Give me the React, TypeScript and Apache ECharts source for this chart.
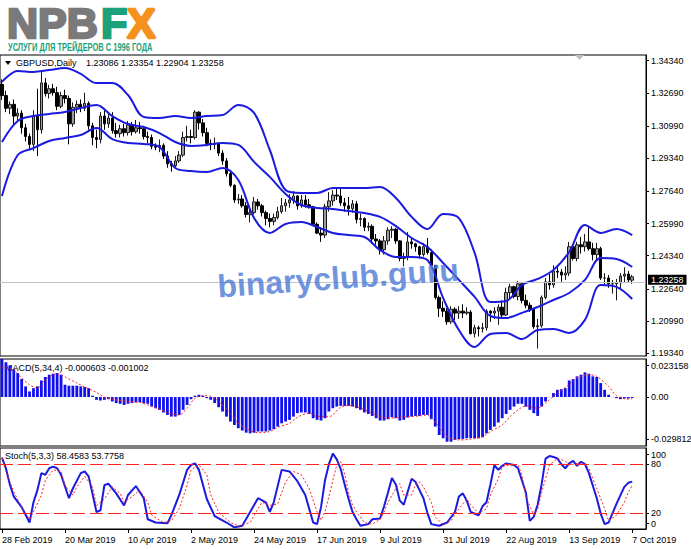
import React, { useEffect, useRef } from 'react';
import * as echarts from 'echarts';

const FF = '"Liberation Sans", Arial, sans-serif';

// ---- x axis tick labels (every 16 bars, MT4 style) ----
const dateTicks = ['28 Feb 2019', '20 Mar 2019', '10 Apr 2019', '2 May 2019', '24 May 2019', '17 Jun 2019', '9 Jul 2019', '31 Jul 2019', '22 Aug 2019', '13 Sep 2019', '7 Oct 2019'];
const dateTickBars = [0, 16, 32, 48, 64, 80, 96, 112, 128, 144, 160];
const SLOTS = 164; // 161 bars + empty space on the right

// ---- GBPUSD daily OHLC ----
const opens = [
  1.3312, 1.3255, 1.3190, 1.3210, 1.3150, 1.3165, 1.3090, 1.3045, 1.3005, 1.3150,
  1.3080, 1.3320, 1.3265, 1.3290, 1.3270, 1.3200, 1.3255, 1.3240, 1.3110, 1.3195,
  1.3210, 1.3190, 1.3215, 1.3100, 1.3040, 1.3030, 1.3150, 1.3110, 1.3140, 1.3075,
  1.3060, 1.3085, 1.3065, 1.3105, 1.3070, 1.3090, 1.3085, 1.3045, 1.3040, 1.2995,
  1.2990, 1.3000, 1.2945, 1.2905, 1.2895, 1.2920, 1.2950, 1.3040, 1.3045, 1.3040,
  1.3170, 1.3115, 1.3065, 1.3010, 1.3005, 1.3010, 1.2960, 1.2920, 1.2855, 1.2795,
  1.2720, 1.2725, 1.2690, 1.2645, 1.2655, 1.2710, 1.2690, 1.2655, 1.2625, 1.2610,
  1.2630, 1.2660, 1.2690, 1.2705, 1.2720, 1.2740, 1.2690, 1.2720, 1.2695, 1.2685,
  1.2595, 1.2550, 1.2540, 1.2685, 1.2715, 1.2745, 1.2740, 1.2705, 1.2690, 1.2675,
  1.2700, 1.2620, 1.2625, 1.2580, 1.2585, 1.2520, 1.2510, 1.2465, 1.2510, 1.2565,
  1.2570, 1.2510, 1.2420, 1.2430, 1.2505, 1.2495, 1.2480, 1.2440, 1.2480, 1.2450,
  1.2385, 1.2220, 1.2165, 1.2150, 1.2095, 1.2160, 1.2140, 1.2150, 1.2140, 1.2145,
  1.2035, 1.2065, 1.2060, 1.2065, 1.2150, 1.2140, 1.2150, 1.2170, 1.2130, 1.2245,
  1.2275, 1.2225, 1.2290, 1.2205, 1.2180, 1.2160, 1.2070, 1.2075, 1.2220, 1.2300,
  1.2285, 1.2355, 1.2350, 1.2335, 1.2345, 1.2480, 1.2420, 1.2490, 1.2480, 1.2505,
  1.2470, 1.2440, 1.2470, 1.2320, 1.2320, 1.2290, 1.2290, 1.2295, 1.2330, 1.2340,
  1.23086,
];
const highs = [
  1.3338, 1.3280, 1.3225, 1.3235, 1.3190, 1.3180, 1.3110, 1.3060, 1.3180, 1.3290,
  1.3380, 1.3345, 1.3310, 1.3315, 1.3300, 1.3275, 1.3285, 1.3255, 1.3220, 1.3230,
  1.3235, 1.3270, 1.3225, 1.3115, 1.3080, 1.3170, 1.3180, 1.3160, 1.3170, 1.3115,
  1.3105, 1.3110, 1.3125, 1.3120, 1.3130, 1.3120, 1.3100, 1.3070, 1.3055, 1.3010,
  1.3030, 1.3010, 1.2970, 1.2920, 1.2945, 1.2970, 1.3070, 1.3100, 1.3080, 1.3180,
  1.3175, 1.3135, 1.3090, 1.3030, 1.3040, 1.3015, 1.2975, 1.2935, 1.2870, 1.2800,
  1.2750, 1.2745, 1.2710, 1.2690, 1.2735, 1.2725, 1.2700, 1.2665, 1.2650, 1.2650,
  1.2685, 1.2730, 1.2725, 1.2750, 1.2765, 1.2745, 1.2745, 1.2745, 1.2725, 1.2690,
  1.2605, 1.2580, 1.2700, 1.2760, 1.2770, 1.2785, 1.2780, 1.2730, 1.2735, 1.2720,
  1.2715, 1.2650, 1.2630, 1.2605, 1.2595, 1.2545, 1.2520, 1.2535, 1.2580, 1.2585,
  1.2575, 1.2515, 1.2450, 1.2555, 1.2525, 1.2500, 1.2485, 1.2500, 1.2525, 1.2465,
  1.2385, 1.2230, 1.2200, 1.2165, 1.2175, 1.2170, 1.2175, 1.2185, 1.2170, 1.2155,
  1.2080, 1.2075, 1.2090, 1.2160, 1.2155, 1.2170, 1.2185, 1.2205, 1.2270, 1.2290,
  1.2280, 1.2305, 1.2300, 1.2235, 1.2195, 1.2165, 1.2110, 1.2230, 1.2320, 1.2340,
  1.2385, 1.2385, 1.2365, 1.2380, 1.2505, 1.2490, 1.2505, 1.2530, 1.2545, 1.2582,
  1.2500, 1.2500, 1.2480, 1.2345, 1.2335, 1.2310, 1.2315, 1.2345, 1.2375, 1.2355,
  1.23354,
];
const lows = [
  1.3232, 1.3170, 1.3160, 1.3110, 1.3120, 1.3060, 1.3020, 1.2975, 1.2970, 1.2945,
  1.3060, 1.3250, 1.3240, 1.3255, 1.3180, 1.3190, 1.3215, 1.3005, 1.3095, 1.3165,
  1.3170, 1.3175, 1.3080, 1.3000, 1.2985, 1.3010, 1.3080, 1.3090, 1.3060, 1.3040,
  1.3040, 1.3045, 1.3050, 1.3050, 1.3060, 1.3060, 1.3030, 1.3010, 1.2980, 1.2975,
  1.2965, 1.2930, 1.2885, 1.2865, 1.2880, 1.2910, 1.2940, 1.3020, 1.3010, 1.3030,
  1.3080, 1.3045, 1.2995, 1.2975, 1.2980, 1.2945, 1.2900, 1.2840, 1.2785, 1.2705,
  1.2700, 1.2680, 1.2630, 1.2605, 1.2645, 1.2670, 1.2635, 1.2590, 1.2580, 1.2590,
  1.2620, 1.2650, 1.2660, 1.2680, 1.2700, 1.2670, 1.2680, 1.2680, 1.2675, 1.2590,
  1.2545, 1.2505, 1.2525, 1.2660, 1.2690, 1.2720, 1.2690, 1.2660, 1.2640, 1.2655,
  1.2600, 1.2585, 1.2560, 1.2560, 1.2495, 1.2490, 1.2440, 1.2440, 1.2490, 1.2525,
  1.2495, 1.2405, 1.2380, 1.2410, 1.2470, 1.2455, 1.2420, 1.2430, 1.2440, 1.2375,
  1.2210, 1.2120, 1.2120, 1.2080, 1.2085, 1.2105, 1.2110, 1.2115, 1.2130, 1.2030,
  1.2015, 1.2020, 1.2040, 1.2050, 1.2095, 1.2110, 1.2080, 1.2120, 1.2125, 1.2210,
  1.2215, 1.2205, 1.2190, 1.2165, 1.2145, 1.2060, 1.1958, 1.2065, 1.2210, 1.2260,
  1.2270, 1.2320, 1.2300, 1.2310, 1.2330, 1.2410, 1.2405, 1.2445, 1.2455, 1.2460,
  1.2410, 1.2415, 1.2310, 1.2285, 1.2270, 1.2240, 1.2205, 1.2260, 1.2295, 1.2295,
  1.22904,
];
const closes = [
  1.3255, 1.3190, 1.3210, 1.3150, 1.3165, 1.3090, 1.3045, 1.3005, 1.3150, 1.3080,
  1.3320, 1.3265, 1.3290, 1.3270, 1.3200, 1.3255, 1.3240, 1.3110, 1.3195, 1.3210,
  1.3190, 1.3215, 1.3100, 1.3040, 1.3030, 1.3150, 1.3110, 1.3140, 1.3075, 1.3060,
  1.3085, 1.3065, 1.3105, 1.3070, 1.3090, 1.3085, 1.3045, 1.3040, 1.2995, 1.2990,
  1.3000, 1.2945, 1.2905, 1.2895, 1.2920, 1.2950, 1.3040, 1.3045, 1.3040, 1.3170,
  1.3115, 1.3065, 1.3010, 1.3005, 1.3010, 1.2960, 1.2920, 1.2855, 1.2795, 1.2720,
  1.2725, 1.2690, 1.2645, 1.2655, 1.2710, 1.2690, 1.2655, 1.2625, 1.2610, 1.2630,
  1.2660, 1.2690, 1.2705, 1.2720, 1.2740, 1.2690, 1.2720, 1.2695, 1.2685, 1.2595,
  1.2550, 1.2540, 1.2685, 1.2715, 1.2745, 1.2740, 1.2705, 1.2690, 1.2675, 1.2700,
  1.2620, 1.2625, 1.2580, 1.2585, 1.2520, 1.2510, 1.2465, 1.2510, 1.2565, 1.2570,
  1.2510, 1.2420, 1.2430, 1.2505, 1.2495, 1.2480, 1.2440, 1.2480, 1.2450, 1.2385,
  1.2220, 1.2165, 1.2150, 1.2095, 1.2160, 1.2140, 1.2150, 1.2140, 1.2145, 1.2035,
  1.2065, 1.2060, 1.2065, 1.2150, 1.2140, 1.2150, 1.2170, 1.2130, 1.2245, 1.2275,
  1.2225, 1.2290, 1.2205, 1.2180, 1.2160, 1.2070, 1.2075, 1.2220, 1.2300, 1.2285,
  1.2355, 1.2350, 1.2335, 1.2345, 1.2480, 1.2420, 1.2490, 1.2480, 1.2505, 1.2470,
  1.2440, 1.2470, 1.2320, 1.2320, 1.2290, 1.2290, 1.2295, 1.2330, 1.2340, 1.2310,
  1.23258,
];

// ---- Bollinger bands, read every 4 bars ----
const bbIdx = [0, 4, 8, 12, 16, 20, 24, 28, 32, 36, 40, 44, 48, 52, 56, 60, 64, 68, 72, 76, 80, 84, 88, 92, 96, 100, 104, 108, 112, 116, 120, 124, 128, 132, 136, 140, 144, 148, 152, 156, 160];
const bbUpper = [1.3325, 1.3381, 1.3376, 1.3386, 1.3396, 1.3366, 1.3319, 1.3319, 1.3258, 1.3145, 1.3140, 1.3150, 1.3140, 1.3150, 1.3155, 1.3207, 1.3166, 1.2976, 1.2771, 1.2756, 1.2756, 1.2781, 1.2781, 1.2781, 1.2786, 1.2730, 1.2633, 1.2571, 1.2648, 1.2627, 1.2448, 1.2197, 1.2202, 1.2284, 1.2315, 1.2361, 1.2453, 1.2592, 1.2551, 1.2571, 1.2540];
const bbMiddle = [1.3017, 1.3125, 1.3150, 1.3161, 1.3171, 1.3191, 1.3207, 1.3150, 1.3109, 1.3094, 1.3063, 1.3017, 1.2997, 1.3002, 1.3012, 1.3002, 1.2915, 1.2838, 1.2751, 1.2694, 1.2679, 1.2674, 1.2663, 1.2653, 1.2633, 1.2586, 1.2525, 1.2479, 1.2397, 1.2310, 1.2223, 1.2125, 1.2115, 1.2141, 1.2171, 1.2207, 1.2243, 1.2310, 1.2422, 1.2417, 1.2376];
const bbLower = [1.2740, 1.2950, 1.2986, 1.3022, 1.3038, 1.3053, 1.3089, 1.3032, 1.3012, 1.3007, 1.2991, 1.2884, 1.2868, 1.2863, 1.2884, 1.2822, 1.2627, 1.2551, 1.2597, 1.2607, 1.2581, 1.2551, 1.2540, 1.2530, 1.2463, 1.2428, 1.2428, 1.2412, 1.2217, 1.2053, 1.1966, 1.2033, 1.2038, 1.2007, 1.2053, 1.2059, 1.2038, 1.2105, 1.2284, 1.2274, 1.2212];

// ---- MACD(5,34,4) ----
const macdHist = [
  0.0231, 0.0212, 0.0193, 0.0170, 0.0146, 0.0110, 0.0065, 0.0034, 0.0054, 0.0065,
  0.0101, 0.0122, 0.0136, 0.0142, 0.0146, 0.0136, 0.0075, 0.0069, 0.0069, 0.0069,
  0.0065, 0.0061, 0.0054, 0.0008, -0.0017, -0.0021, -0.0017, -0.0013, -0.0027, -0.0037,
  -0.0041, -0.0048, -0.0041, -0.0037, -0.0033, -0.0031, -0.0037, -0.0041, -0.0058, -0.0068,
  -0.0078, -0.0094, -0.0109, -0.0119, -0.0119, -0.0109, -0.0078, -0.0048, -0.0013, 0.0008,
  0.0014, 0.0008, -0.0007, -0.0017, -0.0037, -0.0062, -0.0088, -0.0119, -0.0149, -0.0170,
  -0.0190, -0.0204, -0.0217, -0.0221, -0.0217, -0.0210, -0.0210, -0.0210, -0.0204, -0.0196,
  -0.0180, -0.0160, -0.0149, -0.0139, -0.0119, -0.0098, -0.0094, -0.0094, -0.0103, -0.0129,
  -0.0139, -0.0143, -0.0129, -0.0088, -0.0068, -0.0058, -0.0054, -0.0054, -0.0054, -0.0058,
  -0.0068, -0.0078, -0.0094, -0.0103, -0.0115, -0.0129, -0.0143, -0.0143, -0.0135, -0.0123,
  -0.0129, -0.0143, -0.0139, -0.0125, -0.0119, -0.0115, -0.0115, -0.0109, -0.0109, -0.0135,
  -0.0180, -0.0231, -0.0251, -0.0272, -0.0272, -0.0261, -0.0257, -0.0255, -0.0251, -0.0251,
  -0.0251, -0.0251, -0.0245, -0.0221, -0.0200, -0.0180, -0.0155, -0.0129, -0.0103, -0.0078,
  -0.0058, -0.0041, -0.0041, -0.0058, -0.0078, -0.0098, -0.0115, -0.0058, -0.0027, -0.0001,
  0.0024, 0.0044, 0.0048, 0.0054, 0.0101, 0.0109, 0.0126, 0.0136, 0.0150, 0.0142,
  0.0126, 0.0122, 0.0085, 0.0044, 0.0014, -0.0001, -0.0007, -0.0013, -0.0009, -0.0009,
  -0.000603,
];
const macdSigIdx = [0, 3, 5, 7, 9, 11, 14, 16, 19, 21, 24, 26, 28, 32, 35, 37, 40, 42, 45, 47, 49, 51, 53, 55, 58, 60, 63, 65, 68, 70, 73, 75, 78, 80, 83, 86, 88, 90, 93, 96, 98, 101, 103, 106, 108, 109, 111, 113, 116, 119, 122, 124, 127, 129, 131, 133, 136, 138, 141, 144, 146, 149, 151, 154, 156, 159, 160];
const macdSignal = [0.0180, 0.0166, 0.0116, 0.0075, 0.0054, 0.0105, 0.0142, 0.0122, 0.0085, 0.0061, 0.0028, -0.0001, -0.0013, -0.0027, -0.0033, -0.0048, -0.0074, -0.0098, -0.0109, -0.0068, -0.0007, 0.0008, 0.0004, -0.0027, -0.0098, -0.0160, -0.0204, -0.0217, -0.0210, -0.0184, -0.0160, -0.0123, -0.0098, -0.0119, -0.0120, -0.0062, -0.0052, -0.0058, -0.0088, -0.0119, -0.0129, -0.0123, -0.0119, -0.0115, -0.0109, -0.0129, -0.0180, -0.0241, -0.0261, -0.0257, -0.0241, -0.0210, -0.0170, -0.0119, -0.0078, -0.0054, -0.0068, -0.0037, 0.0024, 0.0075, 0.0116, 0.0136, 0.0126, 0.0065, 0.0008, -0.0013, -0.001002];

// ---- Stochastic(5,3,3) ----
const stochIdx = [0, 1, 2, 3, 5, 7, 8, 9, 10, 11, 12, 13, 14, 15, 17, 18, 20, 21, 22, 24, 25, 26, 27, 29, 31, 32, 34, 36, 37, 39, 42, 43, 45, 47, 48, 49, 50, 52, 54, 57, 59, 61, 63, 65, 67, 68, 69, 71, 73, 75, 77, 79, 80, 81, 82, 83, 84, 85, 86, 87, 88, 89, 90, 91, 93, 94, 96, 97, 98, 99, 100, 101, 102, 103, 104, 105, 106, 107, 108, 109, 111, 113, 115, 116, 117, 118, 119, 121, 122, 123, 124, 125, 126, 127, 128, 130, 131, 133, 134, 135, 136, 137, 138, 139, 140, 141, 142, 143, 144, 145, 146, 147, 148, 149, 151, 152, 153, 154, 156, 158, 159, 160];
const stochMain = [88, 75, 55, 40, 27, 8, 33, 48, 69, 67, 75, 77, 75, 67, 38, 50, 69, 71, 65, 21, 23, 54, 56, 44, 29, 42, 53, 38, 12, 8, 7, 17, 42, 73, 79, 81, 73, 37, 16, 8, 2, 4, 21, 38, 33, 21, 33, 73, 71, 59, 42, 8, 6, 27, 60, 80, 93, 86, 74, 55, 37, 21, 12, 4, 6, 12, 13, 28, 45, 63, 55, 35, 30, 46, 62, 58, 48, 38, 20, 6, 4, 8, 21, 40, 44, 35, 21, 17, 28, 33, 55, 79, 73, 78, 81, 79, 75, 45, 10, 15, 30, 55, 87, 90, 89, 87, 80, 75, 81, 84, 78, 83, 80, 69, 38, 19, 6, 8, 31, 52, 57, 58.4583];
const stochSigIdx = [0, 1, 3, 5, 7, 8, 10, 11, 13, 15, 16, 18, 19, 21, 23, 24, 26, 28, 30, 31, 33, 35, 37, 38, 41, 43, 45, 47, 48, 50, 52, 53, 55, 58, 60, 63, 65, 66, 68, 70, 72, 74, 76, 78, 80, 81, 82, 83, 84, 85, 86, 87, 88, 89, 90, 92, 94, 96, 97, 98, 100, 101, 102, 104, 105, 106, 107, 109, 110, 112, 114, 116, 118, 119, 121, 123, 124, 126, 127, 129, 131, 132, 133, 135, 136, 137, 139, 141, 143, 144, 146, 148, 149, 151, 153, 154, 156, 158, 159, 160];
const stochSignal = [88, 71, 46, 27, 12, 21, 42, 60, 73, 71, 54, 42, 52, 65, 52, 29, 37, 52, 44, 33, 40, 48, 33, 17, 8, 10, 25, 54, 73, 79, 67, 42, 21, 8, 4, 8, 25, 33, 29, 31, 58, 71, 67, 50, 21, 11, 21, 40, 60, 79, 83, 68, 45, 30, 21, 8, 6, 12, 21, 33, 50, 56, 42, 42, 55, 58, 52, 33, 15, 5, 10, 25, 37, 30, 19, 25, 42, 62, 77, 79, 79, 67, 40, 17, 25, 45, 79, 87, 84, 79, 81, 80, 75, 50, 25, 10, 17, 33, 45, 53.7758];
const stochLevels = [80, 20];

// ---- right axis labels ----
const priceTicks = [1.19340, 1.20990, 1.22640, 1.24340, 1.25990, 1.27640, 1.29340, 1.30990, 1.32690, 1.34340];
const priceMin = 1.1920;
const priceMax = 1.3463;
const macdTicks = [0.023158, 0, -0.029812];
const macdTickTexts = ['0.023158', '0.00', '-0.029812'];
const stochTicks = [100, 80, 20, 0];

export default function App() {
  const ref = useRef<HTMLDivElement>(null);

  useEffect(() => {
    if (!ref.current) return;
    const chart = echarts.init(ref.current, null, { renderer: 'svg' });

    const cats = Array.from({ length: SLOTS }, (_, i) => 'b' + i);
    const candles = opens.map((o, i) => [o, closes[i], lows[i], highs[i]]);
    const pair = (idx: number[], vals: number[]) => idx.map((x, k) => [x, vals[k]]);
    const tickSet = new Set(dateTickBars);
    const tickText = (i: number) => {
      const k = dateTickBars.indexOf(i);
      return k >= 0 ? dateTicks[k] : '';
    };
    const nearest = (pos: number[], texts: string[]) => (v: number) => {
      let b = 0;
      pos.forEach((p, i) => {
        if (Math.abs(p - v) < Math.abs(pos[b] - v)) b = i;
      });
      return texts[b];
    };

    // edge labels are kept inside the pane (MT4 style)
    const macdMax = macdTicks[0];
    const macdMin = macdTicks[2];
    const macdK = (macdMax - macdMin) / 87;
    const macdPos = [macdMax - 6.5 * macdK, macdTicks[1], macdMin + 7 * macdK];
    const stochK = 100 / 81;
    const stochPos = [100 - 6.5 * stochK, 80, 20, 5.5 * stochK];
    const stochTexts = stochTicks.map((v) => String(v));

    const lastIdx = closes.length - 1;
    const lastClose = closes[lastIdx];
    const ohlcText = [opens[lastIdx], highs[lastIdx], lows[lastIdx], closes[lastIdx]].map((v) => v.toFixed(5)).join(' ');
    const macdText = `MACD(5,34,4) ${macdHist[lastIdx].toFixed(6)} ${macdSignal[macdSignal.length - 1].toFixed(6)}`;
    const stochText = `Stoch(5,3,3) ${stochMain[stochMain.length - 1].toFixed(4)} ${stochSignal[stochSignal.length - 1].toFixed(4)}`;

    const blue = '#1a1ae0';
    const red = '#ff2020';
    const labelStyle = { color: '#000', fontSize: 9, fontFamily: FF };

    const gridBase = { left: 0, width: 646, show: true, borderColor: '#000', borderWidth: 1, backgroundColor: '#fff', containLabel: false, outerBoundsMode: 'none' };

    const yBase = {
      type: 'value',
      position: 'right',
      scale: true,
      axisLine: { show: true, lineStyle: { color: '#000', width: 1 } },
      splitLine: { show: false },
    };

    const option: any = {
      animation: false,
      backgroundColor: '#fff',
      textStyle: { fontFamily: FF },
      grid: [
        { ...gridBase, top: 55, height: 301 },
        { ...gridBase, top: 359, height: 87 },
        { ...gridBase, top: 448, height: 81 },
      ],
      xAxis: [
        { gridIndex: 0, type: 'category', data: cats, boundaryGap: true, show: false },
        { gridIndex: 1, type: 'category', data: cats, boundaryGap: true, show: false },
        {
          gridIndex: 2,
          type: 'category',
          data: cats,
          boundaryGap: true,
          axisLine: { show: true, lineStyle: { color: '#000', width: 1 } },
          axisTick: { show: true, alignWithLabel: true, length: 4, interval: (i: number) => tickSet.has(i), lineStyle: { color: '#000' } },
          axisLabel: {
            show: true,
            interval: (i: number) => tickSet.has(i),
            formatter: (_v: string, i: number) => tickText(i),
            align: 'left',
            margin: 6,
            ...labelStyle,
          },
          splitLine: { show: false },
        },
      ],
      yAxis: [
        {
          ...yBase,
          gridIndex: 0,
          min: priceMin,
          max: priceMax,
          axisTick: { show: true, length: 3, customValues: priceTicks, lineStyle: { color: '#000' } },
          axisLabel: { customValues: priceTicks, formatter: (v: number) => v.toFixed(5), margin: 5, hideOverlap: false, ...labelStyle },
        },
        {
          ...yBase,
          gridIndex: 1,
          min: macdMin,
          max: macdMax,
          axisTick: { show: true, length: 3, customValues: macdPos, lineStyle: { color: '#000' } },
          axisLabel: { customValues: macdPos, formatter: nearest(macdPos, macdTickTexts), margin: 5, hideOverlap: false, ...labelStyle },
        },
        {
          ...yBase,
          gridIndex: 2,
          min: 0,
          max: 100,
          axisTick: { show: true, length: 3, customValues: stochPos, lineStyle: { color: '#000' } },
          axisLabel: { customValues: stochPos, formatter: nearest(stochPos, stochTexts), margin: 5, hideOverlap: false, ...labelStyle },
        },
      ],
      series: [
        {
          type: 'candlestick',
          xAxisIndex: 0,
          yAxisIndex: 0,
          data: candles,
          barWidth: 3,
          itemStyle: {
            color: '#9c9c9c',
            color0: '#000000',
            borderColor: '#1a1a1a',
            borderColor0: '#000000',
            borderWidth: 1,
          },
          markLine: {
            silent: true,
            symbol: ['none', 'none'],
            data: [{ yAxis: lastClose }],
            lineStyle: { color: '#c4c4c4', width: 1, type: 'solid' },
            label: {
              show: true,
              position: 'end',
              distance: 2,
              offset: [0, -2],
              align: 'left',
              verticalAlign: 'middle',
              formatter: lastClose.toFixed(5),
              color: '#fff',
              backgroundColor: '#000',
              padding: [0, 3, 0, 3],
              lineHeight: 10,
              fontSize: 9,
              fontFamily: FF,
            },
          },
        },
        { type: 'line', xAxisIndex: 0, yAxisIndex: 0, data: pair(bbIdx, bbUpper), smooth: 0.35, showSymbol: false, lineStyle: { color: blue, width: 2 } },
        { type: 'line', xAxisIndex: 0, yAxisIndex: 0, data: pair(bbIdx, bbMiddle), smooth: 0.35, showSymbol: false, lineStyle: { color: blue, width: 2 } },
        { type: 'line', xAxisIndex: 0, yAxisIndex: 0, data: pair(bbIdx, bbLower), smooth: 0.35, showSymbol: false, lineStyle: { color: blue, width: 2 } },
        {
          type: 'bar',
          xAxisIndex: 1,
          yAxisIndex: 1,
          data: macdHist,
          barWidth: 2.8,
          itemStyle: { color: '#1010ee' },
        },
        {
          type: 'line',
          xAxisIndex: 1,
          yAxisIndex: 1,
          data: pair(macdSigIdx, macdSignal),
          smooth: 0.3,
          showSymbol: false,
          lineStyle: { color: red, width: 1, type: [2, 2] },
        },
        {
          type: 'line',
          xAxisIndex: 2,
          yAxisIndex: 2,
          data: pair(stochIdx, stochMain),
          showSymbol: false,
          lineStyle: { color: blue, width: 2 },
        },
        {
          type: 'line',
          xAxisIndex: 2,
          yAxisIndex: 2,
          data: pair(stochSigIdx, stochSignal),
          showSymbol: false,
          lineStyle: { color: red, width: 1, type: [2, 2] },
          markLine: {
            silent: true,
            symbol: ['none', 'none'],
            label: { show: false },
            data: stochLevels.map((v) => ({ yAxis: v })),
            lineStyle: { color: red, width: 1, type: [13, 5] },
          },
        },
      ],
      graphic: [
        { type: 'text', x: 7, y: 23, style: { text: 'NPB', fill: '#7a7a7a', stroke: '#7a7a7a', lineWidth: 2.5, fontSize: 43, fontWeight: 'bold', fontFamily: FF, verticalAlign: 'middle' } },
        { type: 'text', x: 101, y: 23, style: { text: 'F', fill: '#1ba27a', stroke: '#1ba27a', lineWidth: 2.5, fontSize: 43, fontWeight: 'bold', fontFamily: FF, verticalAlign: 'middle' } },
        { type: 'text', x: 127, y: 23, style: { text: 'X', fill: '#f5921e', stroke: '#f5921e', lineWidth: 2.5, fontSize: 43, fontWeight: 'bold', fontFamily: FF, verticalAlign: 'middle' } },
        { type: 'text', x: 8, y: 47, scaleX: 0.68, style: { text: 'УСЛУГИ ДЛЯ ТРЕЙДЕРОВ С 1996 ГОДА', fill: '#1ba27a', fontSize: 11, fontWeight: 'bold', fontFamily: FF, verticalAlign: 'middle' } },
        { type: 'polygon', z: 10, shape: { points: [[5, 61], [11, 61], [8, 65]] }, style: { fill: '#000' } },
        { type: 'text', z: 10, x: 16, y: 63, style: { text: 'GBPUSD,Daily', fill: '#000', fontSize: 9, fontFamily: FF, verticalAlign: 'middle' } },
        { type: 'text', z: 10, x: 86, y: 63, style: { text: ohlcText, fill: '#000', fontSize: 9, fontFamily: FF, verticalAlign: 'middle' } },
        { type: 'text', z: 0, x: 5, y: 368, style: { text: macdText, fill: '#000', fontSize: 9, fontFamily: FF, verticalAlign: 'middle' } },
        { type: 'text', z: 10, x: 5, y: 456, style: { text: stochText, fill: '#000', fontSize: 9, fontFamily: FF, verticalAlign: 'middle' } },
        { type: 'polygon', z: 10, shape: { points: [[575, 55], [584, 55], [579.5, 60]] }, style: { fill: '#bdbdbd' } },
        {
          type: 'text',
          z: 100,
          x: 338,
          y: 278,
          rotation: 0.07,
          style: { text: 'binaryclub.guru', fill: 'rgba(80,125,215,0.82)', fontSize: 32, fontWeight: 'bold', fontFamily: FF, align: 'center', verticalAlign: 'middle' },
        },
      ],
    };

    chart.setOption(option);
    return () => chart.dispose();
  }, []);

  return (
    <div
      ref={ref}
      style={{ position: 'absolute', left: 0, top: 0, width: 691, height: 549, background: '#fff' }}
    />
  );
}
